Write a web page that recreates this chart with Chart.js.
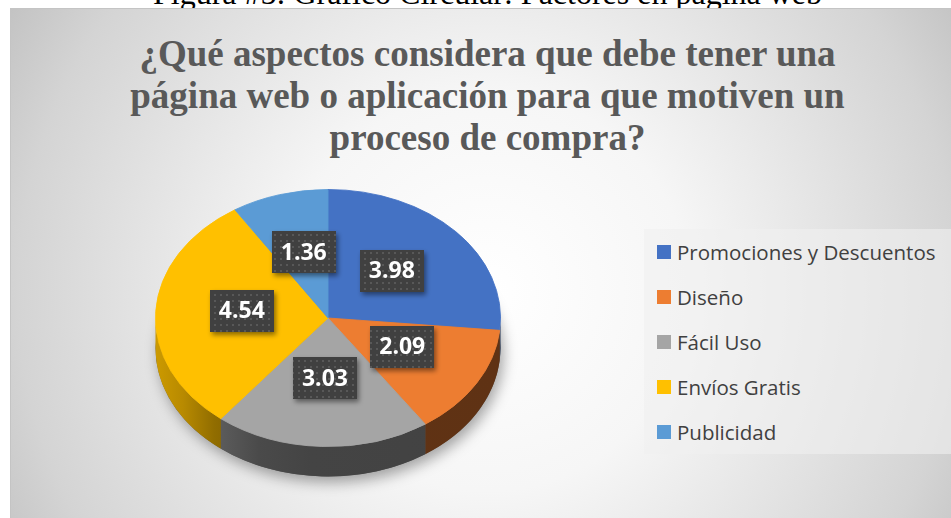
<!DOCTYPE html>
<html>
<head>
<meta charset="utf-8">
<script src="https://cdn.jsdelivr.net/npm/chart.js@4"></script>
<style>
  html, body { margin: 0; padding: 0; width: 951px; height: 518px; overflow: hidden; background: #fff; }
  #caption {
    position: absolute; left: 0; top: -23px; width: 975px; text-align: center;
    font: 32px/1 "Liberation Serif", serif; color: #000; white-space: nowrap;
  }
  #frame {
    position: absolute; left: 10px; top: 8px; width: 955px; height: 560px;
    border-top: 1px solid #c4c4c4; border-left: 1px solid #c4c4c4;
    background: radial-gradient(circle at 477px 282px, #ffffff 0px, #f6f6f6 200px, #ececec 280px, #d4d4d4 470px, #c2c2c2 560px);
  }
  #title {
    position: absolute; left: 10px; top: 33px; width: 955px; text-align: center;
    font: bold 37px/42px "Liberation Serif", serif; color: #595959;
  }
  #legend-box {
    position: absolute; left: 644px; top: 229px; width: 310px; height: 225px;
    background: rgba(240, 240, 240, 0.6);
  }
  #legend-box ul { list-style: none; margin: 0; padding: 0; }
  #legend-box li {
    position: absolute; left: 13px; height: 24px; display: flex; align-items: center;
    font: 20.5px "Open Sans", sans-serif; color: #404040; white-space: nowrap;
  }
  #legend-box li span { display: inline-block; width: 14px; height: 14px; margin-right: 6px; }
  #pie { position: absolute; left: 128px; top: 118px; width: 400px; height: 400px; }
</style>
</head>
<body>
<div id="caption">Figura #5: Gráfico Circular: Factores en página web</div>
<div id="frame"></div>
<div id="title">¿Qué aspectos considera que debe tener una<br>página web o aplicación para que motiven un<br>proceso de compra?</div>
<div id="legend-box"><ul id="legend-list"></ul></div>
<div id="pie"><canvas id="myChart"></canvas></div>

<script>
const labels = ['Promociones y Descuentos', 'Diseño', 'Fácil Uso', 'Envíos Gratis', 'Publicidad']
const values = [3.98, 2.09, 3.03, 4.54, 1.36]
const colors = ['#4472C4', '#ED7D31', '#A5A5A5', '#FFC000', '#5B9BD5']

const TILT = 0.745    // alto/ancho de la cara superior
const DEPTH = 30      // grosor del pastel en px

function shade(hex, f) {
    const n = parseInt(hex.slice(1), 16)
    const r = Math.round(((n >> 16) & 255) * f)
    const g = Math.round(((n >> 8) & 255) * f)
    const b = Math.round((n & 255) * f)
    return `rgb(${r},${g},${b})`
}

// patrón punteado de las etiquetas
const patCanvas = document.createElement('canvas')
patCanvas.width = 6
patCanvas.height = 6
const pctx = patCanvas.getContext('2d')
pctx.fillStyle = '#404040'
pctx.fillRect(0, 0, 6, 6)
pctx.fillStyle = '#585858'
pctx.fillRect(2, 2, 2, 2)

const sideStops = [[0, 0.8], [0.08, 0.72], [0.17, 0.57], [0.3, 0.45], [0.45, 0.41], [1, 0.4]]

const pie3d = {
    id: 'pie3d',
    beforeDatasetsDraw(chart) {
        const ctx = chart.ctx
        const arcs = chart.getDatasetMeta(0).data
        const { x: cx, y: cy, outerRadius: R } = arcs[0]
        const ry = R * TILT

        // sombra
        ctx.save()
        ctx.shadowColor = 'rgba(0,0,0,0.35)'
        ctx.shadowBlur = 14
        ctx.shadowOffsetX = 3
        ctx.shadowOffsetY = 6
        ctx.fillStyle = '#555'
        ctx.beginPath()
        ctx.ellipse(cx, cy + DEPTH, R, ry, 0, 0, Math.PI * 2)
        ctx.fill()
        ctx.restore()

        // paredes laterales (solo la mitad delantera)
        arcs.forEach((arc, i) => {
            const grad = ctx.createLinearGradient(cx - R, 0, cx + R, 0)
            sideStops.forEach(s => grad.addColorStop(s[0], shade(colors[i], s[1])))
            for (const off of [-2 * Math.PI, 0, 2 * Math.PI]) {
                const s = Math.max(arc.startAngle, off)
                const e = Math.min(arc.endAngle, off + Math.PI)
                if (s >= e) continue
                ctx.beginPath()
                ctx.ellipse(cx, cy, R, ry, 0, s, e)
                ctx.ellipse(cx, cy + DEPTH, R, ry, 0, e, s, true)
                ctx.closePath()
                ctx.fillStyle = grad
                ctx.fill()
            }
        })

        // cara superior aplastada
        ctx.save()
        ctx.translate(cx, cy)
        ctx.scale(1, TILT)
        ctx.translate(-cx, -cy)
    },
    afterDatasetsDraw(chart) {
        const ctx = chart.ctx
        ctx.restore()

        const arcs = chart.getDatasetMeta(0).data
        const pattern = ctx.createPattern(patCanvas, 'repeat')
        ctx.save()
        ctx.font = 'bold 23px "Open Sans"'
        ctx.textAlign = 'center'
        ctx.textBaseline = 'middle'
        arcs.forEach((arc, i) => {
            const mid = (arc.startAngle + arc.endAngle) / 2
            const r = arc.outerRadius * 0.5
            const x = arc.x + r * Math.cos(mid)
            const y = arc.y + r * TILT * Math.sin(mid) - 4
            const text = values[i].toFixed(2)
            const w = ctx.measureText(text).width + 18
            const h = 42
            ctx.save()
            ctx.shadowColor = 'rgba(0,0,0,0.45)'
            ctx.shadowBlur = 5
            ctx.shadowOffsetX = 2
            ctx.shadowOffsetY = 3
            ctx.fillStyle = pattern
            ctx.fillRect(Math.round(x - w / 2), Math.round(y - h / 2), Math.round(w), h)
            ctx.restore()
            ctx.fillStyle = '#ffffff'
            ctx.fillText(text, x, y + 1)
        })
        ctx.restore()
    }
}

const ctx = document.getElementById('myChart').getContext('2d')
const myChart = new Chart(ctx, {
    type: 'pie',
    data: {
        labels: labels,
        datasets: [{
            data: values,
            backgroundColor: colors,
            borderColor: colors,
            borderWidth: 1,
            hoverOffset: 0
        }]
    },
    options: {
        responsive: true,
        maintainAspectRatio: false,
        animation: false,
        events: [],
        layout: { padding: 27 },
        plugins: {
            legend: { display: false },
            tooltip: { enabled: false },
            title: { display: false }
        }
    },
    plugins: [pie3d]
})

// leyenda en HTML
const list = document.getElementById('legend-list')
labels.forEach((label, i) => {
    const li = document.createElement('li')
    li.style.top = (11 + i * 45) + 'px'
    const box = document.createElement('span')
    box.style.background = colors[i]
    li.appendChild(box)
    li.appendChild(document.createTextNode(label))
    list.appendChild(li)
})
</script>
</body>
</html>
